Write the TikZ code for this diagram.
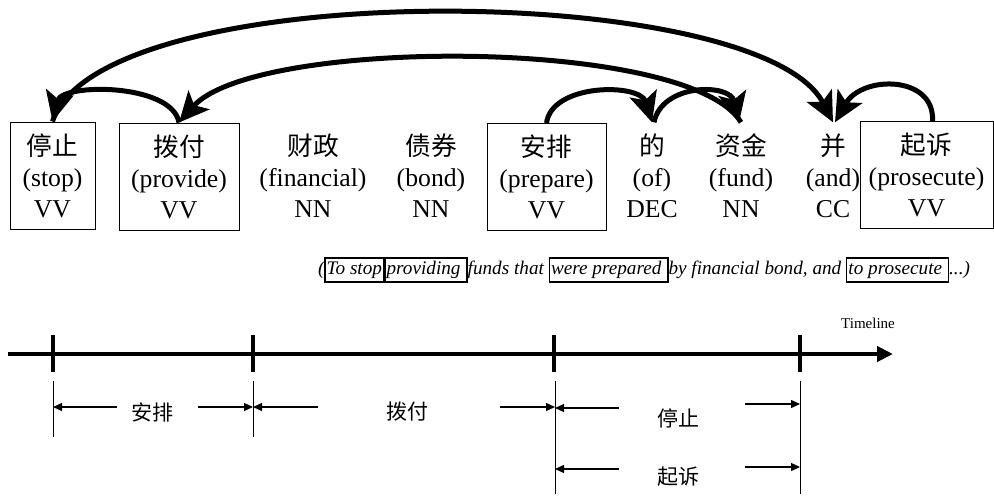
\documentclass[tikz,border=0pt]{standalone}
\usepackage{fontspec}
\setmainfont{Liberation Serif}
\newfontfamily\cjk{Noto Sans CJK SC}
\usetikzlibrary{arrows.meta}
\begin{document}
\begin{tikzpicture}[x=1pt,y=-1pt,
  word/.style={inner sep=0pt, minimum height=107pt, align=center, font=\fontsize{25.7}{31}\selectfont},
  wbox/.style={word, draw, line width=1pt},
  dep/.style={line width=5pt, -{Stealth[length=30pt,width=28pt,inset=7pt]}},
  tick/.style={line width=4pt},
  vline/.style={line width=1pt},
  marr/.style={line width=1.3pt, -{Triangle[length=9pt,width=8pt]}},
  lab/.style={inner sep=0pt, font=\cjk\fontsize{21}{24}\selectfont},
]
\useasboundingbox (0,0) rectangle (994,496);

% words
\node[wbox, minimum width=85pt]  (w1) at (52.5,175.5) {{\cjk 停止}\\(stop)\\VV};
\node[wbox, minimum width=120pt] (w2) at (179,176.5) {{\cjk 拨付}\\(provide)\\VV};
\node[word] (w3) at (313,176) {{\cjk 财政}\\(financial)\\NN};
\node[word] (w4) at (431,176) {{\cjk 债券}\\(bond)\\NN};
\node[wbox, minimum width=119pt] (w5) at (546.5,177) {{\cjk 安排}\\(prepare)\\VV};
\node[word] (w6) at (652,176) {{\cjk 的}\\(of)\\DEC};
\node[word] (w7) at (741,176) {{\cjk 资金}\\(fund)\\NN};
\node[word] (w8) at (833,176) {{\cjk 并}\\(and)\\CC};
\node[wbox, minimum width=133pt] (w9) at (926.5,175) {{\cjk 起诉}\\(prosecute)\\VV};

% dependency arcs
\draw[dep] (w2.north) .. controls (172,83) and (62,83) .. (w1.north);
\draw[dep] (w7.north) .. controls (690,37) and (255,37) .. (w2.north);
\draw[dep] (w1.north) .. controls (100,-25) and (760,-20) .. (w8.north);
\draw[dep] (w5.north) .. controls (552,83) and (640,83) .. (w6.north);
\draw[dep] ([xshift=2pt]w6.north) .. controls (662,83) and (730,83) .. ([xshift=-2pt]w7.north);
\draw[dep] ([xshift=6pt]w9.north) .. controls (935,75) and (862,75) .. ([xshift=2pt]w8.north);

% sentence
\node[inner sep=0pt, font=\itshape\fontsize{19.2}{20.5}\selectfont] (sent) at (644,270)
  {\setlength{\fboxsep}{1pt}\setlength{\fboxrule}{1.3pt}%
   (\fbox{\strut To stop}\fbox{\strut providing }funds that \fbox{\strut were prepared }by financial bond, and \fbox{\strut to prosecute }...)};

% timeline
\coordinate (tlS) at (8,354);
\coordinate (tlE) at (893,354);
\draw[line width=4.5pt, -{Triangle[length=16pt,width=15pt]}] (tlS) -- (tlE);
\node[inner sep=0pt, font=\fontsize{15}{17}\selectfont] (tl) at (868,323) {Timeline};
\foreach \x/\n in {53/t1,253/t2,554/t3,800/t4}{
  \coordinate (\n) at (\x,354);
  \draw[tick] (\x,335) -- (\x,372);
}
\draw[vline] (53,381) -- (53,437);
\draw[vline] (253,381) -- (253,437);
\draw[vline] (555,381) -- (555,494);
\draw[vline] (800,381) -- (800,494);

% labels
\node[lab] (l1) at (152,412) {安排};
\node[lab] (l2) at (407,412) {拨付};
\node[lab] (l3) at (678,418) {停止};
\node[lab] (l4) at (678,477) {起诉};

\draw[marr] (117,407) -- (53,407);
\draw[marr] (198,407) -- (253,407);
\draw[marr] (318,407) -- (253,407);
\draw[marr] (500,407) -- (555,407);
\draw[marr] (619,408) -- (555,408);
\draw[marr] (745,404) -- (800,404);
\draw[marr] (619,469) -- (555,469);
\draw[marr] (745,467) -- (800,467);
\end{tikzpicture}
\end{document}
